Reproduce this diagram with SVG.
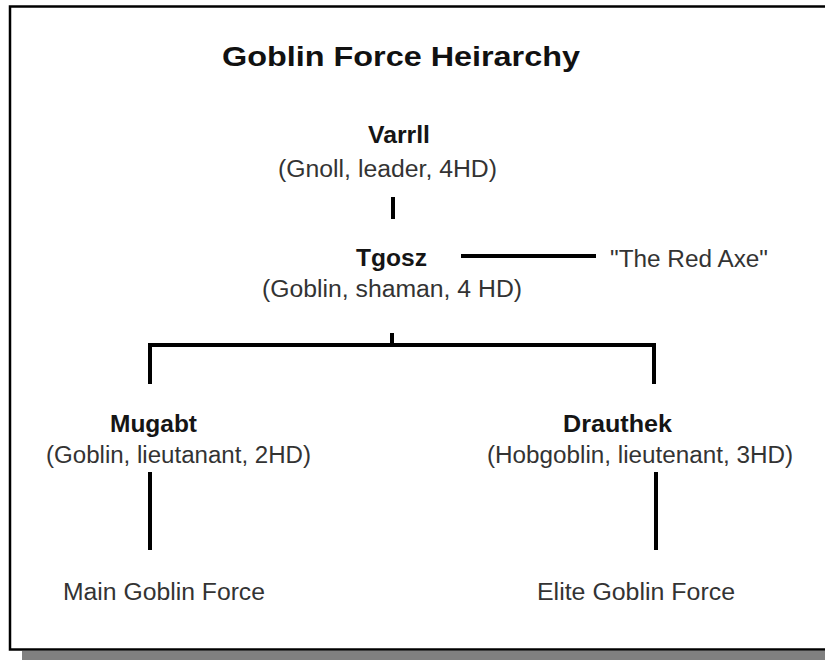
<svg xmlns="http://www.w3.org/2000/svg" width="825" height="660" viewBox="0 0 825 660">
<style>
text{font-family:"Liberation Sans",Arial,sans-serif;}
.t{font-size:28px;font-weight:bold;fill:#111;}
.n{font-size:23px;font-weight:bold;fill:#151515;}
.d{font-size:23px;fill:#333;}
.c{stroke:#000;stroke-width:4;fill:none;stroke-linecap:butt;}
</style>
<rect x="0" y="0" width="825" height="660" fill="#fff"/>
<rect x="22" y="651" width="810" height="9" fill="#808080"/>
<rect x="10" y="6.5" width="830" height="643" fill="none" stroke="#000" stroke-width="2.5"/>
<text class="t" x="222" y="66" textLength="358" lengthAdjust="spacingAndGlyphs">Goblin Force Heirarchy</text>
<g id="varrll">
<text class="n" x="368" y="143" textLength="62" lengthAdjust="spacingAndGlyphs">Varrll</text>
<text class="d" x="278" y="177" textLength="219" lengthAdjust="spacingAndGlyphs">(Gnoll, leader, 4HD)</text>
</g>
<g id="tgosz">
<text class="n" x="356" y="266" textLength="71" lengthAdjust="spacingAndGlyphs">Tgosz</text>
<text class="d" x="262" y="297" textLength="260" lengthAdjust="spacingAndGlyphs">(Goblin, shaman, 4 HD)</text>
</g>
<g id="redaxe">
<text class="d" x="610" y="267" textLength="158" lengthAdjust="spacingAndGlyphs">"The Red Axe"</text>
</g>
<g id="mugabt">
<text class="n" x="110" y="432" textLength="87" lengthAdjust="spacingAndGlyphs">Mugabt</text>
<text class="d" x="46" y="463" textLength="265" lengthAdjust="spacingAndGlyphs">(Goblin, lieutanant, 2HD)</text>
</g>
<g id="drauthek">
<text class="n" x="563" y="432" textLength="109" lengthAdjust="spacingAndGlyphs">Drauthek</text>
<text class="d" x="487" y="463" textLength="306" lengthAdjust="spacingAndGlyphs">(Hobgoblin, lieutenant, 3HD)</text>
</g>
<g id="main-force">
<text class="d" x="63" y="600" textLength="202" lengthAdjust="spacingAndGlyphs">Main Goblin Force</text>
</g>
<g id="elite-force">
<text class="d" x="537" y="600" textLength="198" lengthAdjust="spacingAndGlyphs">Elite Goblin Force</text>
</g>
<g id="connectors">
<line class="c" x1="393" y1="197" x2="393" y2="219"/>
<line class="c" x1="461" y1="256" x2="596" y2="256"/>
<line class="c" x1="392" y1="333" x2="392" y2="345"/>
<polyline class="c" points="150,384 150,345 654,345 654,384"/>
<line class="c" x1="150" y1="472" x2="150" y2="550"/>
<line class="c" x1="656" y1="472" x2="656" y2="550"/>
</g>
</svg>
